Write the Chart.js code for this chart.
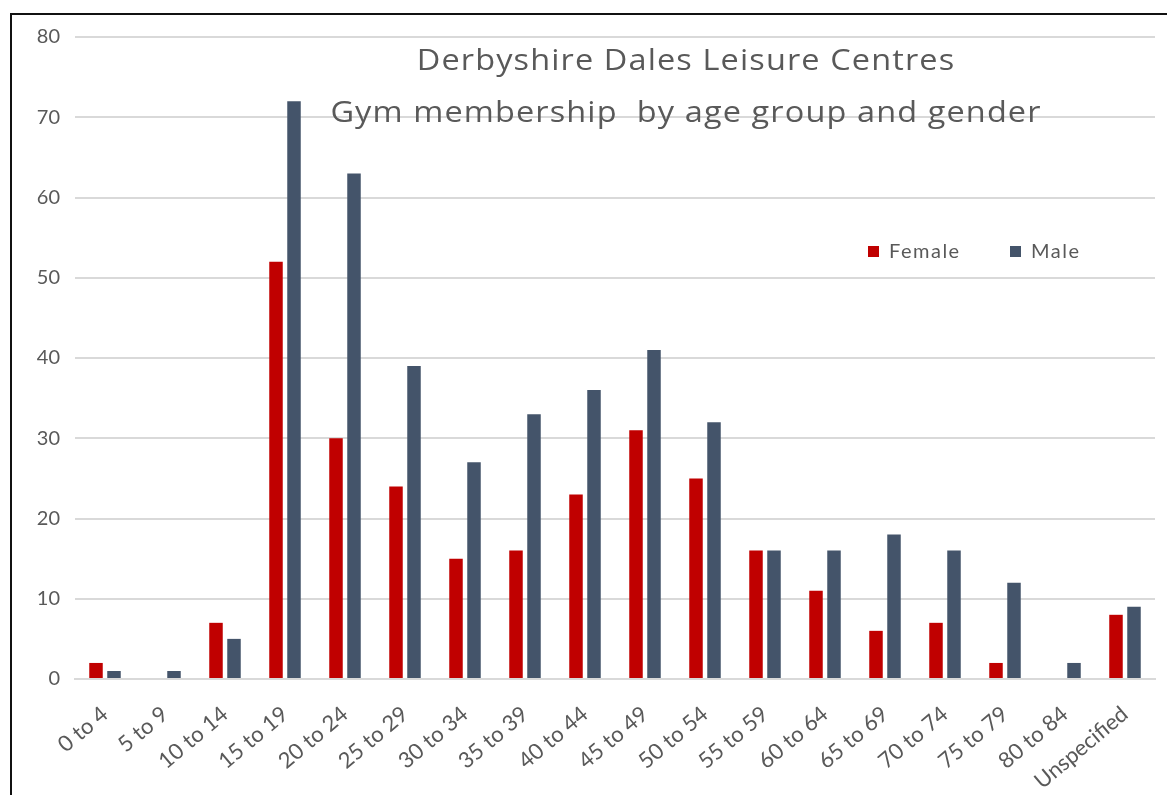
<!DOCTYPE html>
<html>
<head>
<meta charset="utf-8">
<script src="https://cdn.jsdelivr.net/npm/chart.js@4"></script>
<style>
  html, body { margin: 0; padding: 0; background: #fff; overflow: hidden; }
  #wrap { position: relative; width: 1167px; height: 795px; }
  #frame { position: absolute; left: 10px; top: 13px; width: 2000px; height: 2000px; border: 2px solid #111; }
  canvas { position: absolute; left: 0; top: 0; }
</style>
</head>
<body>
<div id="wrap">
  <div id="frame"></div>
  <canvas id="chart" width="1167" height="795"></canvas>
</div>
<script>
// age groups along the x axis
const ageGroups = ['0 to 4', '5 to 9', '10 to 14', '15 to 19', '20 to 24', '25 to 29', '30 to 34',
  '35 to 39', '40 to 44', '45 to 49', '50 to 54', '55 to 59', '60 to 64', '65 to 69',
  '70 to 74', '75 to 79', '80 to 84', 'Unspecified'];

const femaleCounts = [2, 0, 7, 52, 30, 24, 15, 16, 23, 31, 25, 16, 11, 6, 7, 2, 0, 8];
const maleCounts = [1, 1, 5, 72, 63, 39, 27, 33, 36, 41, 32, 16, 16, 18, 16, 12, 2, 9];

const titleLines = ['Derbyshire Dales Leisure Centres', 'Gym membership  by age group and gender'];

const grey = '#595959';

// title + legend sit inside the plot area, like the excel original
const insidePlot = {
  id: 'insidePlot',
  afterDraw(chart) {
    const ctx = chart.ctx;
    const area = chart.chartArea;
    const cx = area.left + 611;
    ctx.save();
    ctx.fillStyle = grey;
    ctx.textAlign = 'center';
    ctx.textBaseline = 'middle';
    ctx.font = '29px "Open Sans"';
    ctx.letterSpacing = '1px';
    // the source picture is a bit stretched sideways
    [25, 77].forEach((dy, i) => {
      ctx.save();
      ctx.translate(cx, area.top + dy);
      ctx.scale(1.12, 1);
      ctx.fillText(titleLines[i], 0, 0);
      ctx.restore();
    });

    // legend
    ctx.font = '20px Lato';
    ctx.letterSpacing = '1.5px';
    ctx.textAlign = 'left';
    let x = area.left + 793;
    const y = area.top + 214;
    chart.data.datasets.forEach(ds => {
      ctx.fillStyle = ds.backgroundColor;
      ctx.fillRect(x, y - 5, 11, 11);
      ctx.fillStyle = grey;
      ctx.fillText(ds.label, x + 21, y + 1);
      x += 142;
    });
    ctx.restore();
  }
};

new Chart(document.getElementById('chart'), {
  type: 'bar',
  data: {
    labels: ageGroups,
    datasets: [
      { label: 'Female', data: femaleCounts, backgroundColor: '#C00000', barPercentage: 0.75, categoryPercentage: 0.6 },
      { label: 'Male', data: maleCounts, backgroundColor: '#44546A', barPercentage: 0.75, categoryPercentage: 0.6 }
    ]
  },
  options: {
    responsive: false,
    animation: false,
    layout: { padding: { left: 0, right: 12, top: 37, bottom: 0 } },
    plugins: {
      legend: { display: false },
      title: { display: false },
      tooltip: { enabled: false }
    },
    scales: {
      x: {
        grid: { display: false },
        border: { color: '#d9d9d9', width: 2 },
        ticks: {
          color: grey,
          font: { family: 'Lato', size: 22 },
          maxRotation: 40,
          minRotation: 40,
          autoSkip: false,
          padding: 14
        },
        afterFit(scale) { scale.height = 116; }
      },
      y: {
        min: 0,
        max: 80,
        grid: { color: '#d9d9d9', lineWidth: 2, drawTicks: false },
        border: { display: false },
        ticks: {
          stepSize: 10,
          color: grey,
          font: { family: 'Lato', size: 20 },
          padding: 15
        },
        afterFit(scale) { scale.width = 75; }
      }
    }
  },
  plugins: [insidePlot]
});
</script>
</body>
</html>
